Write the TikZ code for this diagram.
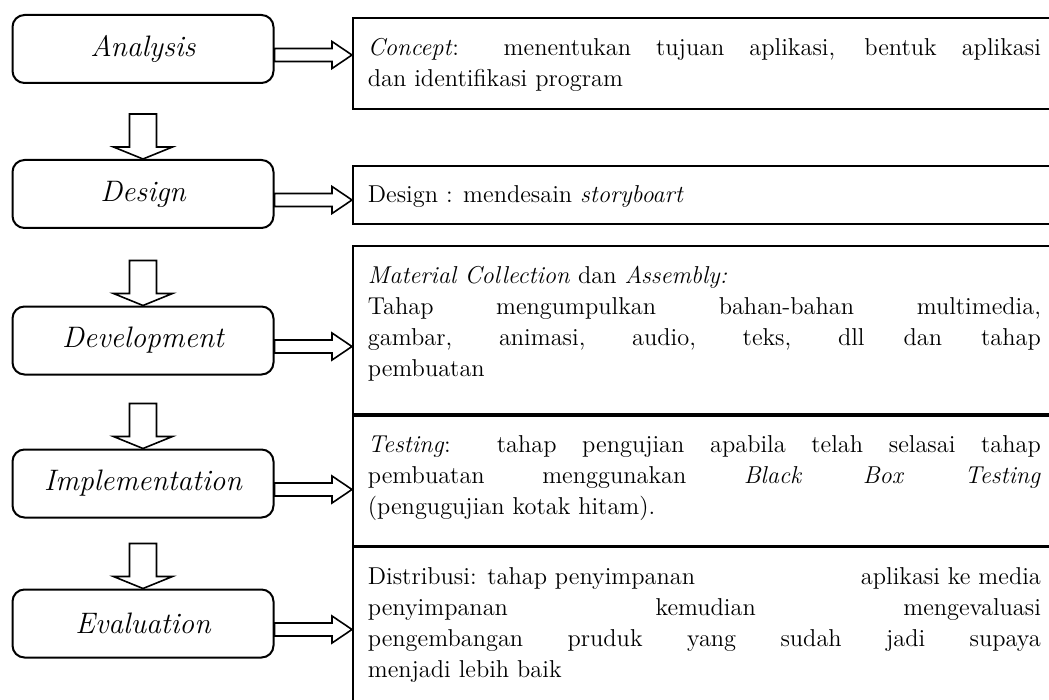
\documentclass[tikz,border=0pt]{standalone}
\usetikzlibrary{calc}

\tikzset{
  stage/.style={draw, line width=1pt, rounded corners=6pt,
    minimum width=130.5pt, minimum height=34pt,
    font=\fontsize{14.8}{17}\selectfont\itshape},
  note/.style={draw, line width=0.9pt, anchor=north west,
    inner xsep=7.5pt, inner ysep=10pt,
    font=\fontsize{12.2}{15.5}\selectfont},
  blockarrow/.style={draw, line width=0.8pt, fill=white, line join=miter}
}

% text of a note, pinned to the top of its box
\newcommand{\notetext}[2]{\parbox[t][#1][t]{336.5pt}{#2}}
% hollow arrow pointing down onto a stage
\newcommand{\dnarrow}[1]{%
  \draw[blockarrow] (#1.north) -- ++(14.75pt,6pt) -- ++(-8pt,0pt)
    -- ++(0pt,16.5pt) -- ++(-13.5pt,0pt) -- ++(0pt,-16.5pt)
    -- ++(-8pt,0pt) -- cycle;}
% hollow arrow from a stage to its note
\newcommand{\rtarrow}[2]{%
  \coordinate (s) at ([yshift=-3pt]#1.east);
  \coordinate (t) at (s -| #2.west);
  \draw[blockarrow] (t) -- ++(-10pt,6.75pt) -- ++(0pt,-3.5pt)
    -- ([yshift=3.25pt]s) -- ([yshift=-3.25pt]s)
    -- ([xshift=-10pt,yshift=-3.25pt]t) -- ([xshift=-10pt,yshift=-6.75pt]t)
    -- cycle;}

\begin{document}
\begin{tikzpicture}[x=0.5pt, y=-0.5pt]
  \clip (0,0) rectangle (1049,700);

  % stages
  \node[stage] (ana) at (143,49) {Analysis};
  \node[stage] (des) at (143,194) {Design};
  \node[stage] (dev) at (143,340.5) {Development};
  \node[stage] (imp) at (143,483.5) {Implementation};
  \node[stage] (eva) at (143,623.5) {Evaluation};

  % notes
  \node[note] (con) at (352,17) {\notetext{25.5pt}{%
    \textit{Concept}: menentukan tujuan aplikasi, bentuk aplikasi\linebreak
    dan identifikasi program}};
  \node[note] (sto) at (352,165) {\notetext{9pt}{%
    Design : mendesain \textit{storyboart}}};
  \node[note] (mat) at (352,245) {\notetext{64pt}{%
    \textit{Material Collection} dan \textit{Assembly:}\\
    Tahap mengumpulkan bahan-bahan multimedia,\linebreak
    gambar, animasi, audio, teks, dll dan tahap\linebreak
    pembuatan}};
  \node[note] (tes) at (mat.south west) {\notetext{45pt}{%
    \textit{Testing}: tahap pengujian apabila telah selasai tahap\linebreak
    pembuatan menggunakan \textit{Black Box Testing}\linebreak
    (pengugujian kotak hitam).}};
  \node[note] (dis) at (tes.south west) {\notetext{72pt}{%
    Distribusi: tahap penyimpanan\hfill aplikasi ke media\linebreak
    penyimpanan kemudian mengevaluasi\linebreak
    pengembangan pruduk yang sudah jadi supaya\linebreak
    menjadi lebih baik}};
  \draw[line width=1.6pt] (mat.south west) -- (mat.south east);

  % arrows
  \dnarrow{des}
  \dnarrow{dev}
  \dnarrow{imp}
  \dnarrow{eva}
  \rtarrow{ana}{con}
  \rtarrow{des}{sto}
  \rtarrow{dev}{mat}
  \rtarrow{imp}{tes}
  \rtarrow{eva}{dis}
\end{tikzpicture}
\end{document}
